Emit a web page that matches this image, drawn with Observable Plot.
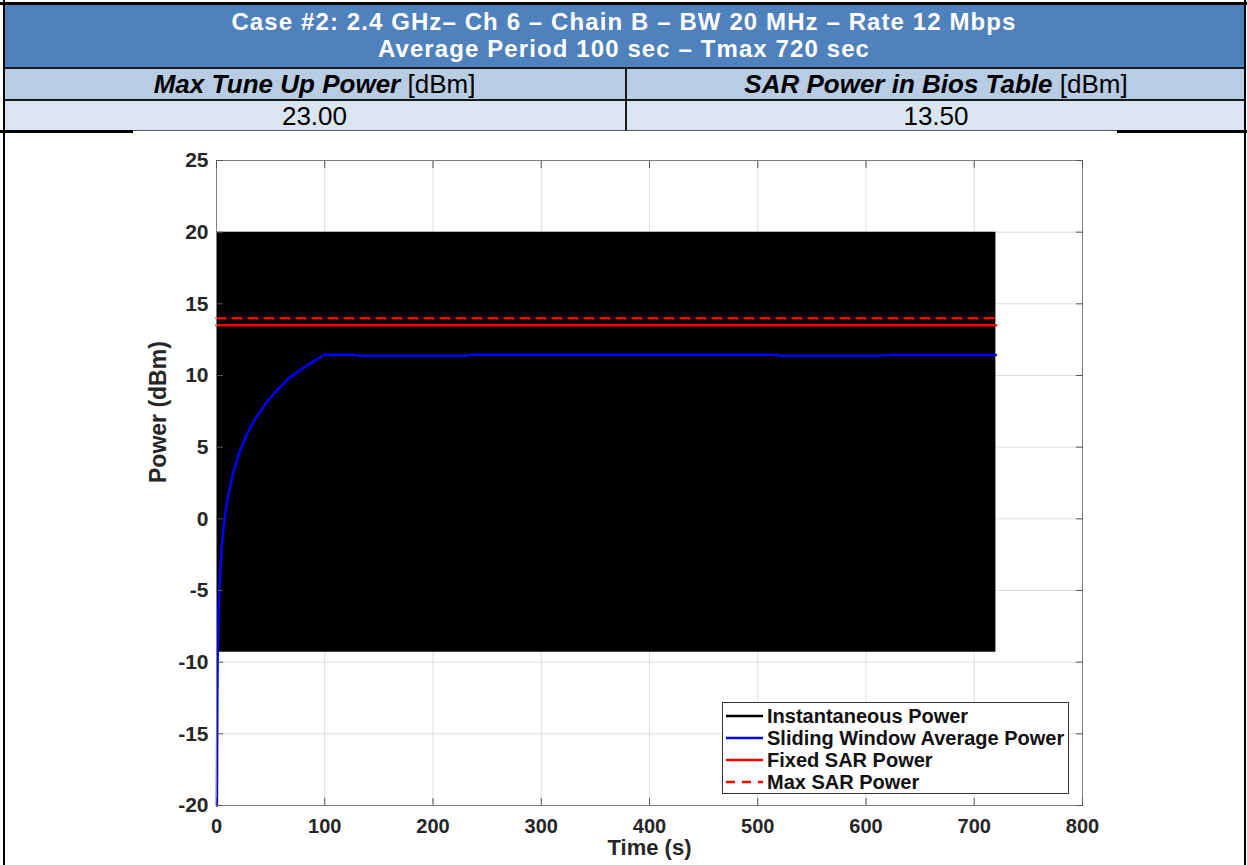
<!DOCTYPE html>
<html><head><meta charset="utf-8">
<script src="https://cdn.jsdelivr.net/npm/d3@7"></script>
<script src="https://cdn.jsdelivr.net/npm/@observablehq/plot@0.6"></script>
<style>
body{margin:0;background:#fff;font-family:"Liberation Sans",Arial,sans-serif;}
#page{position:relative;width:1247px;height:865px;overflow:hidden;background:#fff;}
.abs{position:absolute;box-sizing:border-box;}
.hdr{left:4px;width:1240px;top:5px;height:62px;background:#4F81BD;}
.hl{left:4px;width:1240px;height:27px;color:#fff;font-weight:bold;font-size:24px;letter-spacing:1.1px;text-align:center;line-height:27px;white-space:nowrap;}
.r2{top:67px;height:32px;background:#B8CCE4;font-size:26px;line-height:31px;text-align:center;color:#000;border-top:2px solid #1a1a1a;}
.r3{top:99px;height:32px;background:#DBE5F1;font-size:26px;line-height:30px;text-align:center;color:#000;border-top:2px solid #1a1a1a;border-bottom:1px solid #555;}
#legend{position:absolute;left:722px;top:702px;width:347px;height:92px;background:#fff;border:1px solid #333;box-sizing:border-box;padding-top:2px;}
.lrow{height:22px;display:flex;align-items:center;font-weight:bold;font-size:20px;color:#111;}
.lrow svg{margin-left:3px;margin-right:4px;}
</style>
</head><body>
<div id="page">
  <div class="abs" style="left:0;top:2px;width:1247px;height:3px;background:#000"></div>
  <div class="abs hdr"></div>
  <div class="abs hl" style="top:8px">Case #2: 2.4 GHz– Ch 6 – Chain B – BW 20 MHz – Rate 12 Mbps</div>
  <div class="abs hl" style="top:35px">Average Period 100 sec – Tmax 720 sec</div>
  <div class="abs r2" style="left:4px;width:621px"><b><i>Max Tune Up Power</i></b> [dBm]</div>
  <div class="abs r2" style="left:625px;width:620px;border-left:2px solid #1a1a1a"><b><i>SAR Power in Bios Table</i></b> [dBm]</div>
  <div class="abs r3" style="left:4px;width:621px" id="v1"></div>
  <div class="abs r3" style="left:625px;width:620px;border-left:2px solid #1a1a1a" id="v2"></div>
  <div class="abs" style="left:0;top:130px;width:133px;height:3px;background:#000"></div>
  <div class="abs" style="left:1117px;top:130px;width:130px;height:3px;background:#000"></div>
  <div class="abs" id="chart" style="left:0;top:130px;width:1247px;height:735px"></div>
  <div class="abs" style="left:3px;top:0;width:2px;height:865px;background:#000"></div>
  <div class="abs" style="left:1244px;top:0;width:2px;height:865px;background:#000"></div>
  <div id="legend"></div>
</div>
<script>
// ---- data ----
const maxTuneUp = "23.00";
const sarBios = "13.50";
const xTicks = [0, 100, 200, 300, 400, 500, 600, 700, 800];
const yTicks = [-20, -15, -10, -5, 0, 5, 10, 15, 20, 25];
// instantaneous power envelope (dense toggling between high and low)
const instTime = [0, 720];
const instHigh = [20, 20];
const instLow = [-9.3, -9.3];
// sliding window average power
const avgTime = [0.4, 0.8, 1.2, 2, 3, 4, 5, 6.7, 9, 11.3, 15, 20.5, 28, 35.9, 45, 55, 66.6, 80, 90, 100, 125, 133, 230, 236, 515, 522, 612, 620, 720];
const avgPower = [-20, -12, -9, -6.2, -4.3, -3.0, -1.8, -0.5, 0.8, 1.8, 3.1, 4.5, 5.9, 7.0, 8.0, 8.9, 9.8, 10.5, 11.0, 11.45, 11.45, 11.38, 11.38, 11.45, 11.45, 11.38, 11.38, 11.43, 11.43];
// SAR levels
const sarTime = [0, 720];
const fixedSar = [13.5, 13.5];
const maxSar = [14.0, 14.0];
const legendItems = [
  {label: "Instantaneous Power", color: "#000000", dash: null},
  {label: "Sliding Window Average Power", color: "#0000FF", dash: null},
  {label: "Fixed SAR Power", color: "#FF0000", dash: null},
  {label: "Max SAR Power", color: "#FF0000", dash: "9,7"}
];

document.getElementById("v1").textContent = maxTuneUp;
document.getElementById("v2").textContent = sarBios;

const inst = instTime.map((t, i) => ({t, hi: instHigh[i], lo: instLow[i]}));
const avg = avgTime.map((t, i) => ({t, p: avgPower[i]}));
const fixed = sarTime.map((t, i) => ({t, p: fixedSar[i]}));
const maxs = sarTime.map((t, i) => ({t, p: maxSar[i]}));
const fmt = d => String(d);

const chart = Plot.plot({
  width: 1247, height: 735,
  marginLeft: 216, marginRight: 165, marginTop: 30, marginBottom: 60,
  x: {domain: [0, 800], label: null},
  y: {domain: [-20, 25], label: null},
  style: {fontFamily: "'Liberation Sans', Arial, sans-serif", fontSize: "20px", fontWeight: "bold", color: "#262626", background: "transparent", overflow: "visible"},
  marks: [
    Plot.gridX(xTicks, {stroke: "#dedede", strokeOpacity: 1}),
    Plot.gridY(yTicks, {stroke: "#dedede", strokeOpacity: 1}),
    Plot.areaY(inst, {x: "t", y1: "lo", y2: "hi", fill: "#000"}),
    Plot.line(fixed, {x: "t", y: "p", stroke: "#FF0000", strokeWidth: 2.5}),
    Plot.line(maxs, {x: "t", y: "p", stroke: "#FF0000", strokeWidth: 2.5, strokeDasharray: "9,7"}),
    Plot.line(avg, {x: "t", y: "p", stroke: "#0000FF", strokeWidth: 2.5, curve: "linear"}),
    Plot.frame({stroke: "#808080", strokeWidth: 1}),
    Plot.axisX(xTicks, {anchor: "bottom", tickSize: -7, tickPadding: 20, tickFormat: fmt, stroke: "#555", fill: "#262626", fontWeight: "bold", fontSize: 20}),
    Plot.axisX(xTicks, {anchor: "top", tickSize: -7, tickFormat: () => "", stroke: "#555"}),
    Plot.axisY(yTicks, {anchor: "left", tickSize: -7, tickPadding: 15, tickFormat: fmt, stroke: "#555", fill: "#262626", fontWeight: "bold", fontSize: 21}),
    Plot.axisY(yTicks, {anchor: "right", tickSize: -7, tickFormat: () => "", stroke: "#555"}),
    Plot.text(["Power (dBm)"], {frameAnchor: "left", dx: -58, rotate: -90, fontSize: 23, fontWeight: "bold", fill: "#262626"}),
    Plot.text(["Time (s)"], {frameAnchor: "bottom", dy: 49, fontSize: 22, fontWeight: "bold", fill: "#262626"})
  ]
});
document.getElementById("chart").appendChild(chart);

const leg = document.getElementById("legend");
for (const it of legendItems) {
  const row = document.createElement("div");
  row.className = "lrow";
  row.innerHTML = `<svg width="37" height="6"><line x1="0" y1="3" x2="37" y2="3" stroke="${it.color}" stroke-width="2.5" ${it.dash ? `stroke-dasharray="${it.dash}"` : ""}/></svg><span>${it.label}</span>`;
  leg.appendChild(row);
}
</script>
</body></html>
